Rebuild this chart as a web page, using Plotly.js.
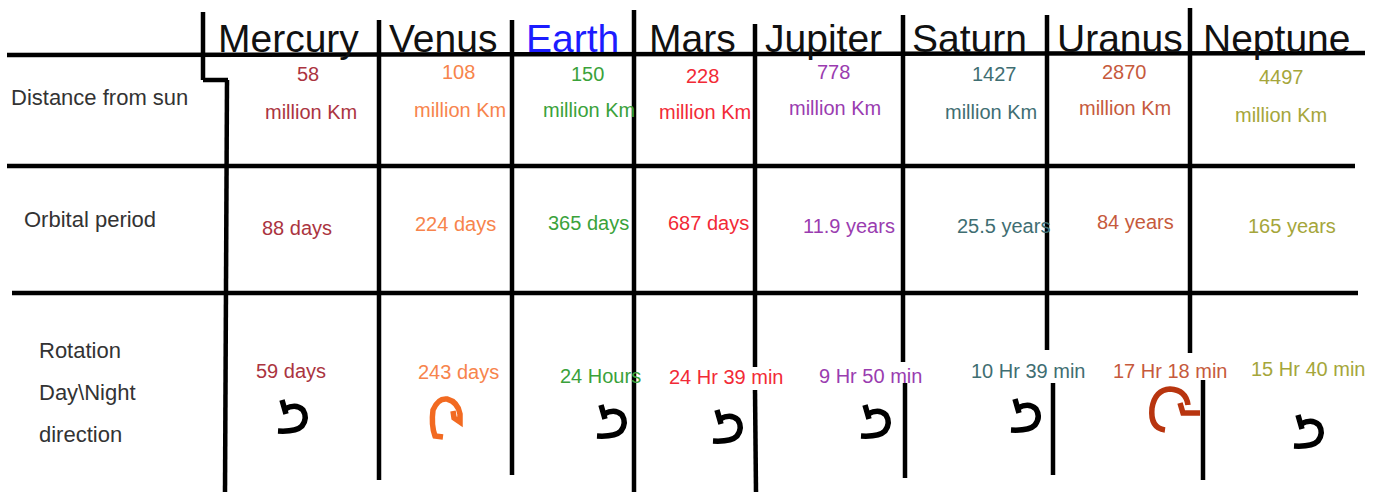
<!DOCTYPE html>
<html><head><meta charset="utf-8">
<script src="https://cdn.plot.ly/plotly-3.0.1.min.js"></script>
<style>html,body{margin:0;padding:0;background:#fff}#chart{width:1381px;height:492px}</style>
</head><body><div id="chart"></div>
<script>
// ---------- data ----------
const planets = ['Mercury','Venus','Earth','Mars','Jupiter','Saturn','Uranus','Neptune'];
const distanceMillionKm = [58, 108, 150, 228, 778, 1427, 2870, 4497];
const distanceUnit = 'million Km';
const orbitalPeriod = ['88 days','224 days','365 days','687 days','11.9 years','25.5 years','84 years','165 years'];
const rotationPeriod = ['59 days','243 days','24 Hours','24 Hr 39 min','9 Hr 50 min','10 Hr 39 min','17 Hr 18 min','15 Hr 40 min'];
const rotationDirection = ['prograde','retrograde','prograde','prograde','prograde','prograde','retrograde','prograde'];
const rowLabels = ['Distance from sun','Orbital period','Rotation','Day\\Night','direction'];

// ---------- styles ----------
const planetColors = ['#ab3440','#f7844c','#3aa23a','#f22a36','#9a3cb0','#3f6e72','#c65a3c','#a5a63a'];
const headerColors = ['#111','#111','#1c1cff','#111','#111','#111','#111','#111'];
const retroColors = {Venus:'#f26a21', Uranus:'#b8350f'};
const FONT = 'Liberation Sans, Arial, Helvetica, sans-serif';

// ---------- layout positions (hand-drawn sheet) ----------
const headerX = [288, 443, 572, 692, 823, 969, 1120, 1276];
const headerY = 38;
const distNumX = [308, 458, 587, 702, 833, 994, 1124, 1281];
const distNumY = [74, 72, 74, 76, 72, 74, 72, 77];
const unitX = [311, 460, 589, 705, 835, 991, 1125, 1281];
const unitY = [112, 110, 110, 112, 108, 112, 108, 115];
const orbX = [297, 455, 588, 708, 849, 1003, 1135, 1292];
const orbY = [228, 224, 223, 223, 226, 226, 222, 226];
const rotX = [291, 458, 600, 726, 870, 1028, 1170, 1308];
const rotY = [371, 372, 376, 377, 376, 371, 371, 369];
const arrowX = [292, 446, 611, 727, 875, 1025, 1176, 1308];
const arrowY = [415, 418, 420, 425, 420, 414, 408, 430];
const labelPos = [[9, 97], [22, 219], [37, 350], [37, 392], [37, 434]];

// grid strokes [x0,y0,x1,y1]
const gridSegments = [
  [7,55,1365,53],[7,166,1355,166],[12,293,1358,293],
  [203,12,203,80],[203,80,228,80],[227,80,225,492],
  [379,20,379,480],[512,20,512,475],[634,10,634,492],
  [755,24,755,367],[755,390,756,492],
  [903,15,903,362],[905,383,905,478],
  [1047,15,1047,350],[1053,383,1053,475],
  [1190,8,1190,353],[1203,380,1203,480]
];

// rotation glyphs relative to centre
const progradeGlyph = [
  [[-7,-6],'Q',[4,-12],[11,-5],'Q',[16,3],[10,11],'Q',[4,17],[-14,16]],
  [[-10,-15],[-6,-1]]
];
const retroGlyphs = {
  Venus: [[[-3,19],[-11,18],'Q',[-15,7],[-13,-8],'Q',[-8,-20],[1,-19],'Q',[12,-16],[14,-4],[14,4],[8,0],[7,-7]]],
  Uranus: [[[-11,22],'Q',[-26,20],[-24,0],'Q',[-21,-18],[-6,-19],'Q',[10,-18],[12,-3]],[[4,-5],[7,5],[24,5]]]
};

function glyphPath(strokes, cx, cy) {
  let d = '';
  strokes.forEach(s => {
    let first = true;
    for (let i = 0; i < s.length; i++) {
      const p = s[i];
      if (p === 'Q') { d += ' Q ' + (cx + s[i+1][0]) + ',' + (cy + s[i+1][1]) + ' ' + (cx + s[i+2][0]) + ',' + (cy + s[i+2][1]); i += 2; continue; }
      d += (first ? ' M ' : ' L ') + (cx + p[0]) + ',' + (cy + p[1]);
      first = false;
    }
  });
  return d.trim();
}

// ---------- build ----------
const shapes = gridSegments.map(s => ({
  type: 'line', xref: 'x', yref: 'y', x0: s[0], y0: s[1], x1: s[2], y1: s[3],
  line: {color: '#000', width: 4.5}, layer: 'above'
}));
planets.forEach((p, i) => {
  const retro = rotationDirection[i] === 'retrograde';
  shapes.push({
    type: 'path', xref: 'x', yref: 'y',
    path: glyphPath(retro ? retroGlyphs[p] : progradeGlyph, arrowX[i], arrowY[i]),
    line: {color: retro ? retroColors[p] : '#000', width: 5.5}, fillcolor: 'rgba(0,0,0,0)', layer: 'above'
  });
});

const ann = [];
function addText(text, x, y, size, color, anchor) {
  ann.push({text: text, x: x, y: y, xref: 'x', yref: 'y', showarrow: false,
    xanchor: anchor || 'center', yanchor: 'middle',
    font: {family: FONT, size: size, color: color}});
}
planets.forEach((p, i) => {
  addText(p, headerX[i], headerY, 39, headerColors[i]);
  addText(String(distanceMillionKm[i]), distNumX[i], distNumY[i], 20, planetColors[i]);
  addText(distanceUnit, unitX[i], unitY[i], 20, planetColors[i]);
  addText(orbitalPeriod[i], orbX[i], orbY[i], 20, planetColors[i]);
  addText(rotationPeriod[i], rotX[i], rotY[i], 20, planetColors[i]);
});
rowLabels.forEach((t, i) => addText(t, labelPos[i][0], labelPos[i][1], 22, '#333', 'left'));

const layout = {
  width: 1381, height: 492,
  margin: {l: 0, r: 0, t: 0, b: 0},
  paper_bgcolor: '#fff', plot_bgcolor: '#fff',
  xaxis: {range: [0, 1381], visible: false, fixedrange: true},
  yaxis: {range: [492, 0], visible: false, fixedrange: true},
  shapes: shapes, annotations: ann, showlegend: false
};
Plotly.newPlot('chart', [{x: [], y: [], type: 'scatter', mode: 'markers', hoverinfo: 'skip'}], layout, {displayModeBar: false, staticPlot: true});
</script></body></html>
